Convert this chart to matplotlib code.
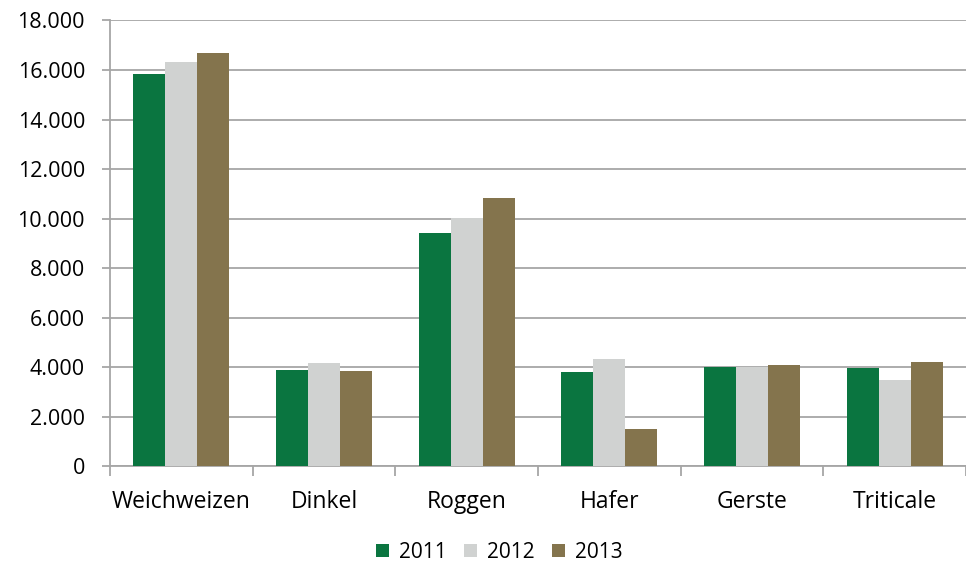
import numpy as np
import matplotlib
matplotlib.use("Agg")
import matplotlib.pyplot as plt

plt.rcParams['font.family'] = ['Open Sans', 'DejaVu Sans']

categories = ["Weichweizen", "Dinkel", "Roggen", "Hafer", "Gerste", "Triticale"]
years = ["2011", "2012", "2013"]
v2011 = [15820, 3880, 9420, 3820, 4000, 3960]
v2012 = [16320, 4170, 10010, 4330, 4000, 3490]
v2013 = [16680, 3860, 10850, 1520, 4100, 4230]
colors = ["#0A7540", "#D0D2D1", "#84744D"]

fig = plt.figure(figsize=(9.66, 5.62), dpi=100)
ax = fig.add_axes([0.1139, 0.1701, 0.886, 0.7936])

x = np.arange(len(categories))
w = 0.224
for i, (vals, c, lab) in enumerate(zip([v2011, v2012, v2013], colors, years)):
    ax.bar(x + (i - 1) * w, vals, w, color=c, label=lab, zorder=3)

ax.set_xlim(-0.5, len(categories) - 0.5)
ax.set_ylim(0, 18000)
ax.set_yticks(np.arange(0, 18001, 2000))
ax.set_yticklabels([f"{v:,}".replace(",", ".") for v in range(0, 18001, 2000)])
ax.yaxis.grid(True, color="#A6A6A6", linewidth=1.3, zorder=0)

ax.set_xticks(x)
ax.set_xticklabels(categories)
ax.set_xticks(np.arange(-0.5, len(categories)), minor=True)
ax.tick_params(axis="x", which="major", length=0, pad=17, labelsize=16.5)
ax.tick_params(axis="x", which="minor", length=7, color="#A6A6A6", width=1.3)
ax.tick_params(axis="y", length=6, color="#A6A6A6", width=1.3, labelsize=15.5, pad=12)

for s in ["top", "right"]:
    ax.spines[s].set_visible(False)
for s in ["left", "bottom"]:
    ax.spines[s].set_color("#A6A6A6")
    ax.spines[s].set_linewidth(1.3)

fig.legend(loc="center", bbox_to_anchor=(0.517, 0.017), ncol=3, frameon=False,
           fontsize=15, handlelength=0.6, handleheight=0.6, handletextpad=0.48,
           columnspacing=0.86)

fig.savefig("out.png", dpi=100)
